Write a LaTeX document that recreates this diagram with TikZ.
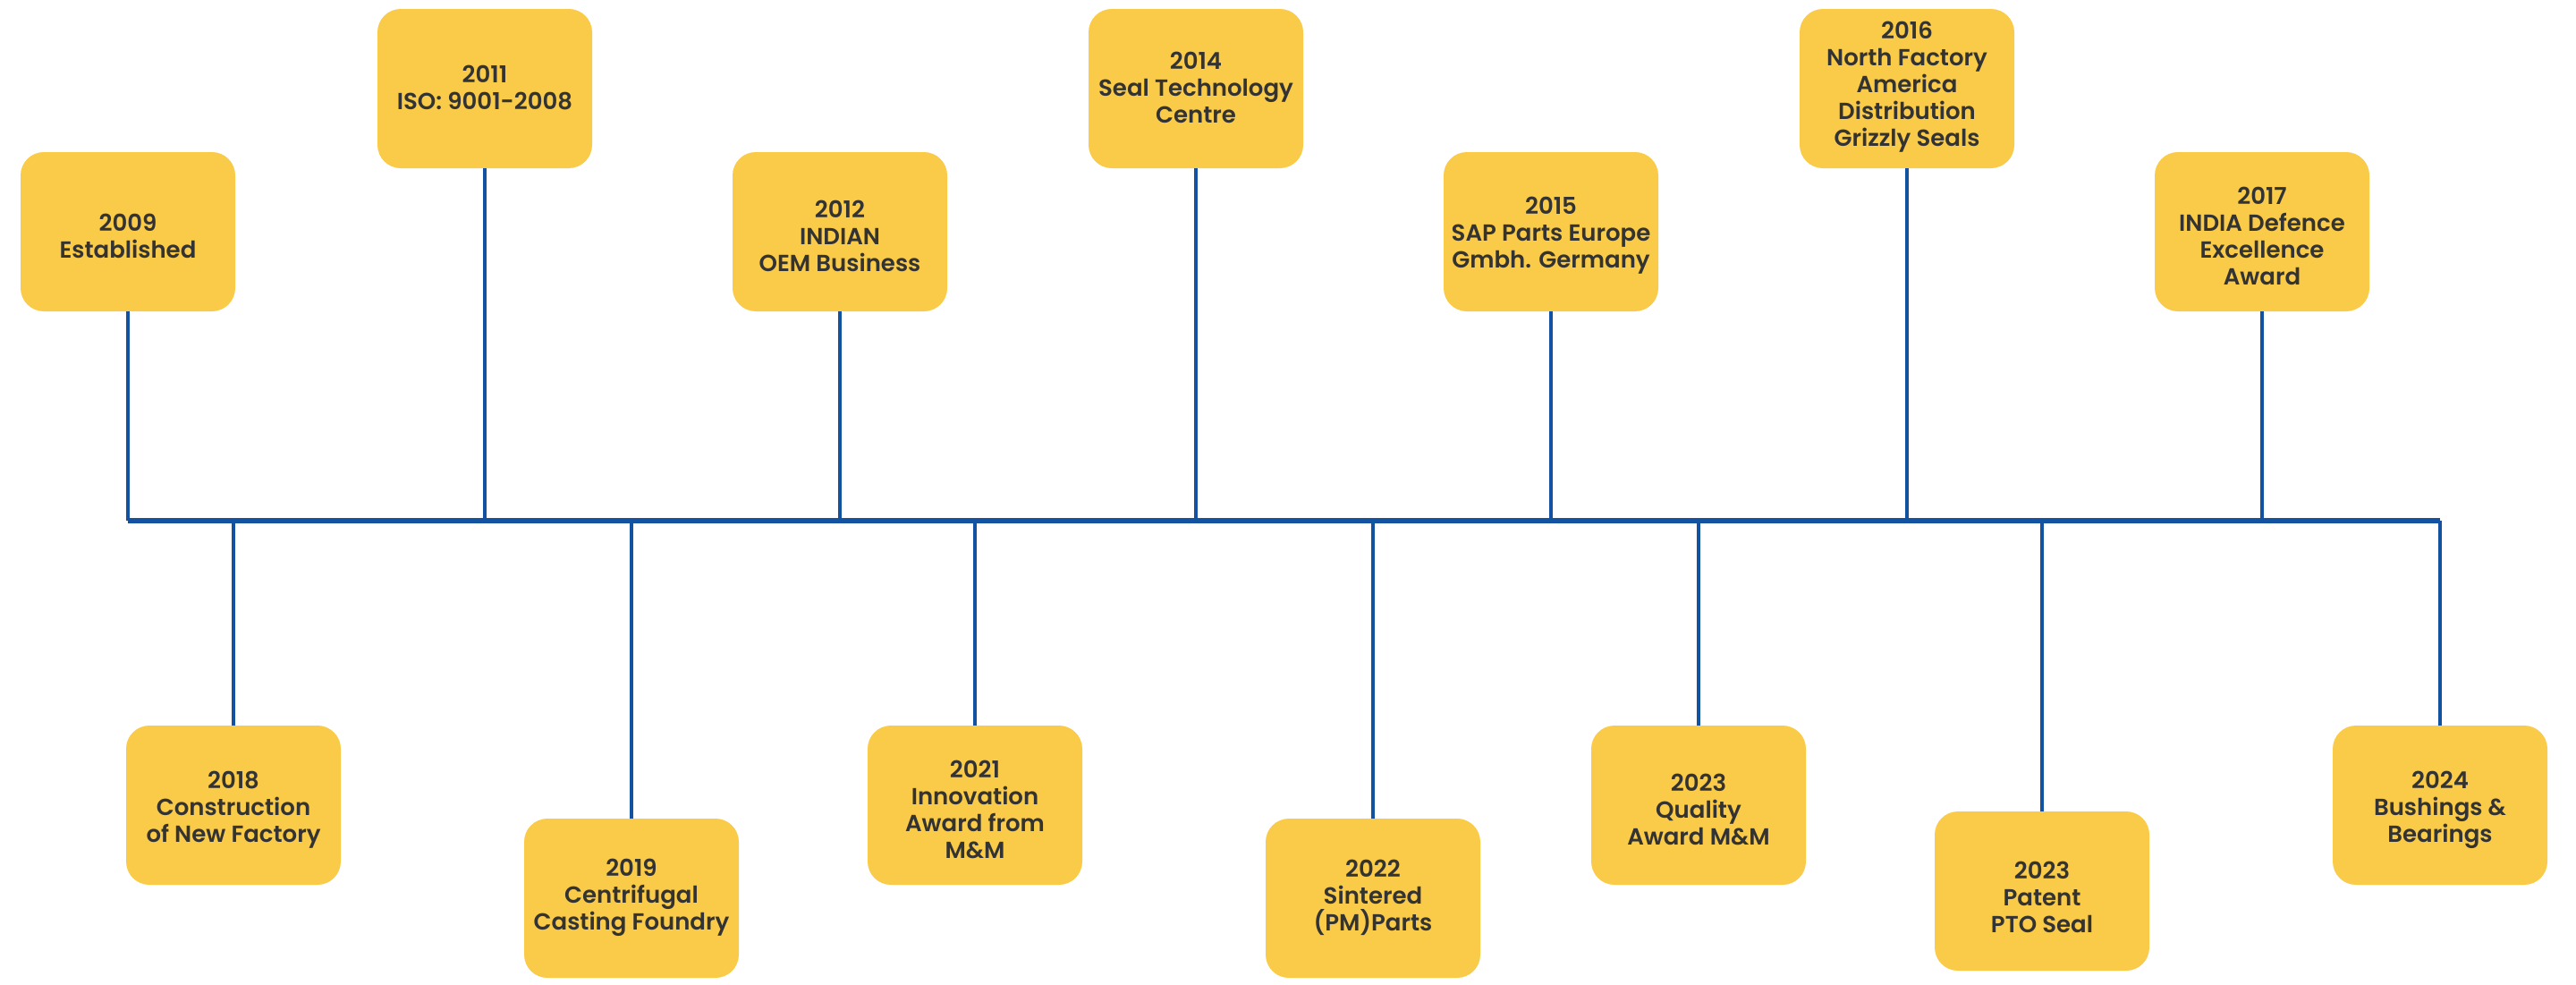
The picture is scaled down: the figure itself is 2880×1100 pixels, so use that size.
\documentclass[tikz,border=0pt]{standalone}
\usepackage{fontspec}
\setmainfont{Poppins}[UprightFont={* Medium},BoldFont={* SemiBold}]
\definecolor{boxyellow}{HTML}{F9CB48}
\definecolor{lineblue}{HTML}{1352A0}
\definecolor{textgray}{HTML}{333333}
\newcommand\evfont{\fontsize{13}{15}\selectfont\bfseries}
\begin{document}
\begin{tikzpicture}[x=0.5pt,y=-0.5pt,
  evbox/.style={fill=boxyellow, rounded corners=13pt, minimum width=120pt,
    minimum height=89pt, inner sep=0pt},
  evtext/.style={align=center, text=textgray, font=\evfont, inner sep=0pt},
  conn/.style={draw=lineblue, line width=1.8pt},
  mainln/.style={draw=lineblue, line width=2.8pt}]
\useasboundingbox (0,0) rectangle (2880,1100);
% top row
\node[evbox, label={[evtext,yshift=-2.3pt]center:{2009\\Established}}] (e2009) at (143,259) {};
\node[evbox, label={[evtext,yshift=0.7pt]center:{2011\\ISO: 9001-2008}}] (e2011) at (542,99) {};
\node[evbox, label={[evtext,yshift=-2.3pt]center:{2012\\INDIAN\\OEM Business}}] (e2012) at (939,259) {};
\node[evbox, label={[evtext,yshift=0.7pt]center:{2014\\Seal Technology\\Centre}}] (e2014) at (1337,99) {};
\node[evbox, label={[evtext,yshift=-2.3pt]center:{2015\\SAP Parts Europe\\Gmbh. Germany}}] (e2015) at (1734,259) {};
\node[evbox, label={[evtext,yshift=0.7pt]center:{2016\\North Factory\\America\\Distribution\\Grizzly Seals}}] (e2016) at (2132,99) {};
\node[evbox, label={[evtext,yshift=-2.3pt]center:{2017\\INDIA Defence\\Excellence\\Award}}] (e2017) at (2529,259) {};
% bottom row
\node[evbox, label={[evtext,yshift=-2.5pt]center:{2018\\Construction\\of New Factory}}] (e2018) at (261,900) {};
\node[evbox, label={[evtext,yshift=0.4pt]center:{2019\\Centrifugal\\Casting Foundry}}] (e2019) at (706,1004) {};
\node[evbox, label={[evtext,yshift=-2.5pt]center:{2021\\Innovation\\Award from\\M\&M}}] (e2021) at (1090,900) {};
\node[evbox, label={[evtext,yshift=0.4pt]center:{2022\\Sintered\\(PM)Parts}}] (e2022) at (1535,1004) {};
\node[evbox, label={[evtext,yshift=-2.5pt]center:{2023\\Quality\\Award M\&M}}] (e2023q) at (1899,900) {};
\node[evbox, label={[evtext,yshift=-3.5pt]center:{2023\\Patent\\PTO Seal}}] (e2023p) at (2283,996) {};
\node[evbox, label={[evtext,yshift=-2.5pt]center:{2024\\Bushings \&\\Bearings}}] (e2024) at (2728,900) {};
% main line
\coordinate (ml) at (143,582);
\coordinate (mr) at (2728,582);
\draw[mainln] (ml) -- (mr);
% connectors
\foreach \n in {e2009,e2011,e2012,e2014,e2015,e2016,e2017}
  \draw[conn] (\n.south) -- (\n.south |- ml);
\foreach \n in {e2018,e2019,e2021,e2022,e2023q,e2023p,e2024}
  \draw[conn] (\n.north |- ml) -- (\n.north);
\end{tikzpicture}
\end{document}
